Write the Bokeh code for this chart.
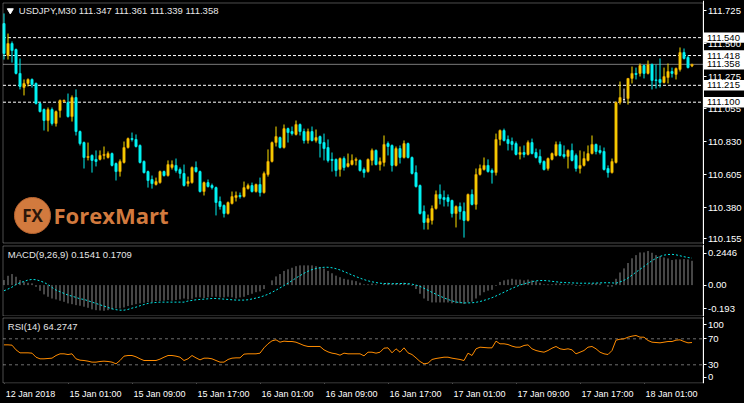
from bokeh.plotting import figure
from bokeh.layouts import column
from bokeh.models import (Range1d, FixedTicker, LinearAxis, Label, BoxAnnotation,
                          PrintfTickFormatter, ColumnDataSource)
from bokeh.embed import file_html
from bokeh.resources import INLINE
from bokeh.core.properties import value

try:
    from bokeh.models import GlobalInlineStyleSheet
except ImportError:
    GlobalInlineStyleSheet = None

# ---------------- data (USDJPY, M30) ----------------
symbol_title = "USDJPY,M30"
time_ticks = [0, 16, 32, 48, 64, 80, 96, 112, 128, 144, 160]
time_labels = ["12 Jan 2018", "15 Jan 01:00", "15 Jan 09:00", "15 Jan 17:00",
               "16 Jan 01:00", "16 Jan 09:00", "16 Jan 17:00", "17 Jan 01:00",
               "17 Jan 09:00", "17 Jan 17:00", "18 Jan 01:00"]
price_ticks = [110.155, 110.380, 110.605, 110.830, 111.055, 111.275, 111.500, 111.725]
level_lines = [111.540, 111.418, 111.215, 111.100]
bid_price = 111.358

open_ = [
    111.636, 111.418, 111.500, 111.459, 111.296, 111.200, 111.228, 111.255, 111.228, 111.091,
    111.050, 110.975, 111.050, 110.955, 111.043, 111.105, 111.098, 111.002, 111.132, 110.900,
    110.825, 110.723, 110.737, 110.710, 110.710, 110.737, 110.723, 110.750, 110.682, 110.627,
    110.689, 110.791, 110.852, 110.846, 110.805, 110.696, 110.627, 110.573, 110.539, 110.552,
    110.627, 110.600, 110.655, 110.669, 110.641, 110.614, 110.545, 110.552, 110.655, 110.627,
    110.491, 110.552, 110.532, 110.518, 110.423, 110.396, 110.341, 110.409, 110.450, 110.464,
    110.457, 110.511, 110.532, 110.491, 110.539, 110.484, 110.607, 110.696, 110.825, 110.859,
    110.791, 110.920, 110.900, 110.880, 110.948, 110.900, 110.839, 110.900, 110.839, 110.866,
    110.825, 110.791, 110.710, 110.710, 110.641, 110.716, 110.662, 110.675, 110.703, 110.703,
    110.641, 110.627, 110.703, 110.771, 110.675, 110.689, 110.818, 110.805, 110.669, 110.784,
    110.723, 110.818, 110.723, 110.620, 110.532, 110.355, 110.280, 110.294, 110.375, 110.471,
    110.450, 110.450, 110.430, 110.341, 110.389, 110.355, 110.294, 110.471, 110.403, 110.607,
    110.641, 110.669, 110.634, 110.620, 110.846, 110.907, 110.846, 110.832, 110.818, 110.744,
    110.757, 110.744, 110.825, 110.757, 110.730, 110.696, 110.648, 110.710, 110.737, 110.812,
    110.744, 110.730, 110.771, 110.737, 110.648, 110.669, 110.703, 110.750, 110.812, 110.771,
    110.764, 110.648, 110.620, 110.689, 111.098, 111.118, 111.125, 111.262, 111.296, 111.296,
    111.350, 111.296, 111.357, 111.252, 111.255, 111.234, 111.268, 111.309, 111.289, 111.323,
    111.439, 111.405, 111.347]
high = [
    111.705, 111.568, 111.514, 111.466, 111.398, 111.255, 111.262, 111.262, 111.234, 111.098,
    111.057, 111.064, 111.064, 111.043, 111.118, 111.118, 111.159, 111.146, 111.187, 110.907,
    110.832, 110.825, 110.744, 110.771, 110.771, 110.798, 110.764, 110.757, 110.689, 110.710,
    110.832, 110.859, 110.893, 110.880, 110.812, 110.703, 110.634, 110.600, 110.586, 110.634,
    110.634, 110.703, 110.703, 110.716, 110.655, 110.675, 110.593, 110.662, 110.696, 110.634,
    110.559, 110.573, 110.545, 110.525, 110.457, 110.403, 110.423, 110.491, 110.491, 110.484,
    110.559, 110.545, 110.552, 110.545, 110.586, 110.627, 110.778, 110.832, 110.934, 110.866,
    110.948, 110.927, 110.934, 110.975, 110.955, 110.920, 110.920, 110.934, 110.914, 110.873,
    110.886, 110.846, 110.757, 110.716, 110.723, 110.730, 110.750, 110.744, 110.723, 110.710,
    110.655, 110.716, 110.784, 110.778, 110.723, 110.873, 110.832, 110.812, 110.798, 110.805,
    110.839, 110.825, 110.730, 110.669, 110.539, 110.396, 110.334, 110.396, 110.498, 110.539,
    110.498, 110.471, 110.436, 110.396, 110.416, 110.416, 110.477, 110.505, 110.648, 110.675,
    110.723, 110.710, 110.648, 110.886, 110.914, 110.920, 110.873, 110.859, 110.832, 110.798,
    110.805, 110.839, 110.852, 110.784, 110.778, 110.703, 110.723, 110.757, 110.832, 110.832,
    110.805, 110.778, 110.818, 110.750, 110.771, 110.764, 110.805, 110.873, 110.818, 110.805,
    110.791, 110.669, 110.716, 111.105, 111.241, 111.193, 111.262, 111.343, 111.336, 111.364,
    111.357, 111.384, 111.364, 111.357, 111.398, 111.336, 111.364, 111.336, 111.336, 111.473,
    111.466, 111.418, 111.361]
low = [
    111.391, 111.391, 111.370, 111.289, 111.187, 111.146, 111.207, 111.200, 111.084, 111.030,
    110.907, 110.900, 110.941, 110.934, 110.995, 111.098, 110.995, 110.968, 110.873, 110.805,
    110.648, 110.703, 110.620, 110.662, 110.703, 110.710, 110.716, 110.662, 110.566, 110.593,
    110.682, 110.784, 110.832, 110.791, 110.682, 110.614, 110.518, 110.511, 110.532, 110.545,
    110.593, 110.593, 110.641, 110.620, 110.580, 110.525, 110.525, 110.545, 110.620, 110.484,
    110.464, 110.518, 110.505, 110.328, 110.368, 110.314, 110.334, 110.403, 110.423, 110.443,
    110.450, 110.505, 110.484, 110.484, 110.457, 110.477, 110.593, 110.689, 110.798, 110.784,
    110.784, 110.825, 110.873, 110.873, 110.873, 110.818, 110.818, 110.832, 110.825, 110.723,
    110.703, 110.689, 110.627, 110.593, 110.593, 110.634, 110.655, 110.669, 110.669, 110.627,
    110.586, 110.620, 110.669, 110.669, 110.634, 110.662, 110.737, 110.627, 110.662, 110.682,
    110.716, 110.716, 110.607, 110.518, 110.334, 110.232, 110.232, 110.266, 110.368, 110.403,
    110.389, 110.389, 110.314, 110.246, 110.300, 110.177, 110.287, 110.396, 110.368, 110.600,
    110.634, 110.620, 110.545, 110.600, 110.805, 110.832, 110.771, 110.771, 110.737, 110.710,
    110.723, 110.737, 110.744, 110.716, 110.675, 110.634, 110.634, 110.703, 110.730, 110.730,
    110.716, 110.648, 110.696, 110.627, 110.614, 110.662, 110.696, 110.744, 110.744, 110.744,
    110.634, 110.586, 110.614, 110.682, 111.084, 111.098, 111.084, 111.228, 111.255, 111.275,
    111.262, 111.289, 111.187, 111.193, 111.200, 111.228, 111.228, 111.268, 111.255, 111.309,
    111.391, 111.330, 111.339]
close = [
    111.432, 111.500, 111.452, 111.296, 111.207, 111.228, 111.255, 111.221, 111.091, 111.036,
    110.975, 111.050, 110.955, 111.036, 111.112, 111.112, 111.002, 111.132, 110.900, 110.818,
    110.723, 110.730, 110.703, 110.696, 110.737, 110.744, 110.750, 110.669, 110.627, 110.696,
    110.791, 110.852, 110.846, 110.798, 110.689, 110.620, 110.566, 110.545, 110.559, 110.627,
    110.600, 110.675, 110.675, 110.634, 110.614, 110.532, 110.559, 110.655, 110.627, 110.491,
    110.552, 110.525, 110.518, 110.416, 110.389, 110.341, 110.416, 110.457, 110.464, 110.457,
    110.518, 110.532, 110.491, 110.539, 110.484, 110.614, 110.696, 110.825, 110.866, 110.791,
    110.920, 110.893, 110.886, 110.948, 110.900, 110.839, 110.900, 110.839, 110.859, 110.818,
    110.784, 110.703, 110.703, 110.634, 110.716, 110.655, 110.682, 110.703, 110.710, 110.634,
    110.620, 110.710, 110.771, 110.675, 110.696, 110.812, 110.798, 110.669, 110.784, 110.723,
    110.818, 110.723, 110.614, 110.525, 110.341, 110.280, 110.307, 110.375, 110.471, 110.443,
    110.436, 110.423, 110.341, 110.389, 110.355, 110.294, 110.471, 110.403, 110.607, 110.648,
    110.669, 110.627, 110.620, 110.846, 110.907, 110.839, 110.818, 110.812, 110.744, 110.757,
    110.744, 110.825, 110.750, 110.723, 110.689, 110.641, 110.716, 110.750, 110.812, 110.737,
    110.730, 110.771, 110.703, 110.648, 110.669, 110.716, 110.750, 110.812, 110.764, 110.757,
    110.641, 110.620, 110.696, 111.098, 111.132, 111.118, 111.262, 111.296, 111.289, 111.350,
    111.296, 111.357, 111.248, 111.248, 111.234, 111.275, 111.309, 111.296, 111.330, 111.439,
    111.398, 111.336, 111.358]

macd_main = [
    0.032, 0.059, 0.070, 0.053, 0.032, 0.021, 0.015, 0.011, -0.011, -0.036,
    -0.059, -0.074, -0.085, -0.091, -0.099, -0.106, -0.116, -0.121, -0.127, -0.131,
    -0.137, -0.144, -0.154, -0.159, -0.161, -0.163, -0.159, -0.154, -0.148, -0.148,
    -0.142, -0.133, -0.127, -0.121, -0.116, -0.112, -0.108, -0.108, -0.101, -0.101,
    -0.099, -0.095, -0.099, -0.095, -0.091, -0.085, -0.091, -0.087, -0.078, -0.078,
    -0.082, -0.078, -0.074, -0.074, -0.078, -0.078, -0.074, -0.078, -0.085, -0.078,
    -0.074, -0.063, -0.055, -0.045, -0.040, -0.025, 0.000, 0.030, 0.055, 0.070,
    0.090, 0.100, 0.110, 0.120, 0.125, 0.125, 0.125, 0.125, 0.120, 0.115,
    0.105, 0.090, 0.075, 0.060, 0.050, 0.040, 0.035, 0.030, 0.025, 0.015,
    0.005, 0.005, 0.010, 0.005, 0.000, 0.010, 0.015, 0.010, 0.012, 0.010,
    0.015, 0.010, -0.005, -0.025, -0.055, -0.085, -0.100, -0.110, -0.110, -0.110,
    -0.110, -0.110, -0.115, -0.115, -0.115, -0.120, -0.110, -0.105, -0.085, -0.065,
    -0.045, -0.035, -0.030, -0.005, 0.020, 0.030, 0.035, 0.040, 0.035, 0.035,
    0.030, 0.035, 0.030, 0.025, 0.015, 0.005, 0.005, 0.005, 0.010, 0.010,
    0.005, 0.005, 0.005, -0.005, -0.005, -0.002, 0.003, 0.010, 0.012, 0.010,
    0.000, -0.010, -0.010, 0.040, 0.080, 0.106, 0.140, 0.170, 0.190, 0.207,
    0.207, 0.216, 0.205, 0.190, 0.184, 0.175, 0.169, 0.159, 0.163, 0.163,
    0.165, 0.163, 0.1541]
macd_signal = [
    -0.036, -0.025, -0.013, 0.004, 0.015, 0.023, 0.032, 0.036, 0.034, 0.027,
    0.017, 0.004, -0.015, -0.032, -0.042, -0.053, -0.063, -0.070, -0.078, -0.087,
    -0.091, -0.099, -0.108, -0.116, -0.125, -0.133, -0.142, -0.150, -0.156, -0.159,
    -0.159, -0.154, -0.146, -0.140, -0.131, -0.123, -0.116, -0.112, -0.110, -0.108,
    -0.108, -0.108, -0.108, -0.108, -0.108, -0.108, -0.101, -0.097, -0.093, -0.091,
    -0.089, -0.087, -0.085, -0.085, -0.087, -0.089, -0.091, -0.093, -0.095, -0.095,
    -0.095, -0.093, -0.088, -0.082, -0.076, -0.068, -0.058, -0.046, -0.032, -0.018,
    -0.003, 0.012, 0.028, 0.045, 0.060, 0.075, 0.088, 0.098, 0.105, 0.110,
    0.113, 0.113, 0.110, 0.104, 0.096, 0.086, 0.075, 0.064, 0.054, 0.044,
    0.035, 0.027, 0.021, 0.016, 0.012, 0.010, 0.009, 0.009, 0.009, 0.010,
    0.010, 0.009, 0.006, 0.000, -0.008, -0.020, -0.033, -0.046, -0.058, -0.070,
    -0.081, -0.091, -0.100, -0.107, -0.111, -0.113, -0.113, -0.112, -0.109, -0.104,
    -0.097, -0.089, -0.080, -0.069, -0.057, -0.045, -0.033, -0.021, -0.010, 0.000,
    0.008, 0.015, 0.022, 0.027, 0.029, 0.029, 0.027, 0.024, 0.021, 0.018,
    0.016, 0.015, 0.014, 0.013, 0.012, 0.012, 0.012, 0.012, 0.013, 0.014,
    0.015, 0.015, 0.014, 0.012, 0.020, 0.030, 0.045, 0.063, 0.082, 0.100,
    0.118, 0.137, 0.155, 0.170, 0.182, 0.190, 0.194, 0.195, 0.192, 0.186,
    0.180, 0.175, 0.1709]
rsi = [
    60.7, 60.7, 60.2, 53.0, 48.4, 48.4, 48.4, 47.9, 41.7, 39.2,
    39.2, 39.7, 40.2, 44.3, 46.9, 46.9, 45.8, 46.9, 39.2, 37.1,
    36.6, 35.6, 34.1, 34.1, 35.1, 35.6, 35.1, 34.1, 31.5, 36.6,
    43.3, 44.3, 44.3, 42.3, 39.2, 36.6, 36.6, 36.6, 36.6, 38.7,
    41.7, 44.3, 44.3, 43.3, 41.7, 36.6, 39.2, 44.3, 40.7, 37.6,
    40.2, 40.2, 39.2, 36.6, 34.1, 34.1, 38.2, 40.2, 40.7, 40.7,
    46.4, 46.9, 46.9, 46.9, 47.9, 56.1, 62.3, 66.9, 68.4, 64.8,
    66.4, 65.8, 65.8, 64.8, 62.3, 59.7, 58.2, 58.2, 58.2, 58.2,
    53.0, 49.9, 47.9, 46.9, 44.8, 47.9, 46.9, 46.9, 46.9, 46.9,
    43.8, 49.4, 49.4, 47.9, 49.4, 55.6, 56.1, 48.4, 54.6, 49.4,
    56.1, 48.4, 45.8, 40.7, 35.1, 31.5, 32.5, 38.2, 39.7, 40.7,
    41.7, 41.7, 40.2, 39.2, 38.2, 36.6, 47.9, 44.3, 54.6, 57.1,
    56.6, 56.1, 56.1, 66.4, 62.3, 62.3, 61.2, 58.7, 57.1, 57.1,
    59.7, 60.7, 54.6, 52.0, 50.5, 49.4, 52.0, 55.6, 58.2, 54.6,
    53.5, 54.6, 53.0, 46.9, 49.4, 52.0, 57.1, 58.2, 54.6, 49.4,
    46.9, 45.8, 52.0, 67.9, 69.4, 69.9, 72.5, 74.1, 75.1, 72.5,
    72.5, 67.4, 64.8, 64.3, 63.8, 64.8, 65.8, 65.8, 67.9, 68.4,
    65.8, 63.8, 64.2747]
macd_max, macd_min = 0.2446, -0.193
rsi_levels = [70, 30]

# ---------------- styling / layout ----------------
FONT = "Liberation Sans"
BG = "black"
W = 744
n = len(close)
xs = list(range(n))
# 4 px per bar; the plotting frames span the full width, price scale drawn at the right edge
x_range = Range1d(-0.875, 185.125)
X_L, X_R = -0.25, 174.75          # left border / price-scale line

BULL_FILL, BULL_LINE = "#FFEE00", "#E8A400"
BEAR_FILL, BEAR_LINE = "#00FFFF", "#00E6E6"


def make_fig(height, y_range, bottom):
    p = figure(width=W, height=height, x_range=x_range, y_range=y_range,
               output_backend="svg", toolbar_location=None,
               x_axis_location=None, y_axis_location=None,
               min_border_left=0, min_border_right=0,
               min_border_top=0, min_border_bottom=bottom,
               background_fill_color=BG, border_fill_color=BG,
               outline_line_color=None)
    p.grid.visible = False
    return p


def frame_box(p, top, bottom):
    p.add_layout(BoxAnnotation(left=X_L, right=X_R, top=top, bottom=bottom,
                               fill_color=None, fill_alpha=0,
                               line_color="white", line_width=1))


def right_axis(p, ticks, overrides=None, fmt=None):
    ax = LinearAxis(ticker=FixedTicker(ticks=ticks), fixed_location=X_R)
    if fmt:
        ax.formatter = PrintfTickFormatter(format=fmt)
    if overrides:
        ax.major_label_overrides = overrides
    ax.axis_line_color = "white"
    ax.major_tick_line_color = "white"
    ax.major_tick_out = 3
    ax.major_tick_in = 0
    ax.minor_tick_line_color = None
    ax.major_label_standoff = 2
    ax.major_label_text_color = "white"
    ax.major_label_text_font = FONT
    ax.major_label_text_font_size = "9.5px"
    p.add_layout(ax, "right")
    return ax


def head_label(p, x, y, text):
    p.add_layout(Label(x=x, y=y, text=text, text_color="#E6E6E6", text_font=FONT,
                       text_font_size="9.5px", text_align="left", text_baseline="middle"))


# ---------------- main price panel (y 0..244) ----------------
pm = make_fig(244, Range1d(110.1299, 111.7932), 0)
frame_box(pm, 111.7762, 110.1402)

# watermark logo
pm.scatter(x=[7.125], y=[110.3276], size=36, marker="circle",
           fill_color="#D27A3E", line_color="#B86430", line_width=1, level="underlay")
pm.text(x=[7.125], y=[110.3276], text=["FX"], text_color="#2A160A",
        text_font=value("Open Sans"), text_font_style="bold", text_font_size="17px",
        text_align="center", text_baseline="middle", level="underlay")
pm.text(x=[12.375], y=[110.3276], text=["ForexMart"], text_color="#D27A3E",
        text_font=value("Open Sans"), text_font_style="bold", text_font_size="22px",
        text_align="left", text_baseline="middle", level="underlay")

k = len(level_lines)
pm.segment(x0=[X_L] * k, x1=[X_R] * k, y0=level_lines, y1=level_lines,
           line_color="white", line_dash="3 2", line_width=1)
pm.segment(x0=[X_L], x1=[X_R], y0=[bid_price], y1=[bid_price],
           line_color="#7A7A7A", line_width=1)

top = [max(o, c) for o, c in zip(open_, close)]
bot = [min(o, c) for o, c in zip(open_, close)]
fill, line, wick = [], [], []
for o, c in zip(open_, close):
    if c > o:
        fill.append(BULL_FILL); line.append(BULL_LINE); wick.append("#FFE000")
    elif c < o:
        fill.append(BEAR_FILL); line.append(BEAR_LINE); wick.append("#00F0F0")
    else:
        fill.append("#E0E0E0"); line.append("#E0E0E0"); wick.append("#E0E0E0")
src = ColumnDataSource(dict(x=xs, high=high, low=low, top=top, bot=bot,
                            fill=fill, line=line, wick=wick))
pm.segment(x0="x", y0="high", x1="x", y1="low", line_color="wick", line_width=1, source=src)
pm.vbar(x="x", width=0.5, top="top", bottom="bot", fill_color="fill",
        line_color="line", line_width=1, source=src)

ptick_pos = price_ticks[:]
ptick_pos[0] = 110.170          # keep the lowest label inside the panel
right_axis(pm, ptick_pos, overrides={tp: f"{tv:.3f}" for tp, tv in zip(ptick_pos, price_ticks)})

# price tags on the scale (white boxes drawn above the axis labels)
tag_vals = level_lines + [bid_price]
tag_half = 0.0355                # ~5 px half height
pm.quad(left=[X_R + 0.125] * len(tag_vals), right=[x_range.end] * len(tag_vals),
        top=[v + tag_half for v in tag_vals], bottom=[v - tag_half for v in tag_vals],
        fill_color="white", line_color=None, level="overlay")
pm.text(x=[X_R] * len(tag_vals), y=tag_vals, text=[f"{v:.3f}" for v in tag_vals],
        x_offset=4, text_color="black", text_font=value(FONT), text_font_size="9.5px",
        text_align="left", text_baseline="middle", level="overlay")

pm.scatter(x=[1.575], y=[111.725], marker="inverted_triangle", size=6,
           fill_color="white", line_color="white")
head_label(pm, 3.7, 111.727,
           f"{symbol_title}  {open_[-1]:.3f} {high[-1]:.3f} {low[-1]:.3f} {close[-1]:.3f}")

# ---------------- MACD panel (y 244..316) ----------------
pd_ = make_fig(72, Range1d(-0.19911, 0.25745), 0)
frame_box(pd_, 0.24794, -0.19594)
pd_.segment(x0=xs, y0=[0] * n, x1=xs, y1=macd_main, line_color="#8C8C8C", line_width=1)
pd_.line(xs, macd_signal, line_color="#00E5E5", line_width=1, line_dash="2 2")
right_axis(pd_, [0.2023, 0.0, -0.150],
           overrides={0.2023: f"{macd_max:.4f}", 0.0: "0.00", -0.150: f"{macd_min:.3f}"})
head_label(pd_, 0.95, 0.194, f"MACD(9,26,9) {macd_main[-1]:.4f} {macd_signal[-1]:.4f}")

# ---------------- RSI panel (y 316..403) ----------------
pr = make_fig(87, Range1d(1.23, 104.31), 20)
frame_box(pr, 102.0, 2.0)
pr.segment(x0=[X_L] * 2, x1=[X_R] * 2, y0=rsi_levels, y1=rsi_levels,
           line_color="#6E6E6E", line_dash="3 3", line_width=1)
pr.line(xs, rsi, line_color="#FF8C00", line_width=1)
right_axis(pr, [91.5, 70, 30, 10.9],
           overrides={91.5: "100", 70: "70", 30: "30", 10.9: "0"})
head_label(pr, 0.95, 89.4, f"RSI(14) {rsi[-1]:.4f}")

# time axis: tick marks at the bar, labels start just right of the tick
tick_ax = LinearAxis(ticker=FixedTicker(ticks=time_ticks), fixed_location=1.23)
tick_ax.axis_line_color = None
tick_ax.major_tick_line_color = "white"
tick_ax.major_tick_out = 4
tick_ax.major_tick_in = 0
tick_ax.minor_tick_line_color = None
tick_ax.major_label_text_font_size = "0px"
tick_ax.major_label_overrides = {t: "" for t in time_ticks}
pr.add_layout(tick_ax, "below")

lab_pos = [t + (6.6 if i == 0 else 6.9) for i, t in enumerate(time_ticks)]
lab_ax = LinearAxis(ticker=FixedTicker(ticks=lab_pos),
                    major_label_overrides=dict(zip(lab_pos, time_labels)))
lab_ax.axis_line_color = None
lab_ax.major_tick_line_color = None
lab_ax.major_tick_out = 0
lab_ax.major_tick_in = 0
lab_ax.minor_tick_line_color = None
lab_ax.major_label_standoff = 5
lab_ax.major_label_text_color = "white"
lab_ax.major_label_text_font = FONT
lab_ax.major_label_text_font_size = "9px"
pr.add_layout(lab_ax, "below")

kw = {}
if GlobalInlineStyleSheet is not None:
    kw["stylesheets"] = [GlobalInlineStyleSheet(
        css="html, body { margin: 0; padding: 0; background: #000; overflow: hidden; }")]
layout = column(pm, pd_, pr, spacing=0, **kw)
open("out.html", "w").write(file_html(layout, INLINE))
